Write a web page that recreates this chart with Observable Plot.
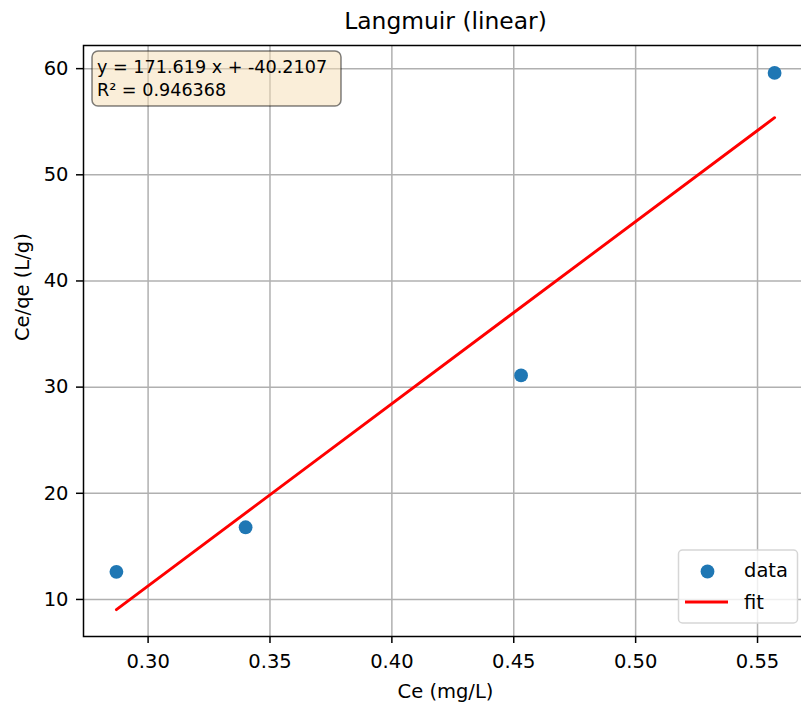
<!DOCTYPE html>
<html>
<head>
<meta charset="utf-8">
<script src="https://cdn.jsdelivr.net/npm/d3@7"></script>
<script src="https://cdn.jsdelivr.net/npm/@observablehq/plot@0.6"></script>
<style>
  html, body { margin: 0; padding: 0; background: white; overflow: hidden; }
  #wrap { position: relative; width: 801px; height: 708px; overflow: hidden; }
  #wrap svg.overlay { position: absolute; left: 0; top: 0; pointer-events: none; }
</style>
</head>
<body>
<div id="wrap"></div>
<script>
// ---- data ----
const ce = [0.287, 0.340, 0.453, 0.557];          // Ce (mg/L)
const ceqe = [12.6, 16.8, 31.1, 59.6];            // Ce/qe (L/g)
const slope = 171.619;
const intercept = -40.2107;
const r2 = 0.946368;
const fitX = [0.287, 0.557];
const xTicks = [0.30, 0.35, 0.40, 0.45, 0.50, 0.55];
const yTicks = [10, 20, 30, 40, 50, 60];
const titleText = "Langmuir (linear)";
const xLabel = "Ce (mg/L)";
const yLabel = "Ce/qe (L/g)";
const legendLabels = ["data", "fit"];

const points = ce.map((x, i) => ({x, y: ceqe[i]}));
const fit = fitX.map(x => ({x, y: slope * x + intercept}));

const font = "'DejaVu Sans', sans-serif";

const chart = Plot.plot({
  width: 801,
  height: 708,
  marginTop: 45,
  marginLeft: 83,
  marginRight: -6,
  marginBottom: 72,
  x: {domain: [0.2735, 0.5705]},
  y: {domain: [6.51, 62.18]},
  style: {fontFamily: font, fontSize: "19.5px", color: "black", background: "white", overflow: "hidden"},
  marks: [
    Plot.gridX(xTicks, {stroke: "#b0b0b0", strokeOpacity: 1, strokeWidth: 1.5}),
    Plot.gridY(yTicks, {stroke: "#b0b0b0", strokeOpacity: 1, strokeWidth: 1.5}),
    Plot.line(fit, {x: "x", y: "y", stroke: "red", strokeWidth: 2.9}),
    Plot.dot(points, {x: "x", y: "y", r: 6.9, fill: "#1f77b4"}),
    Plot.frame({stroke: "black", strokeWidth: 1.5}),
    Plot.axisX(xTicks, {tickSize: 7, tickPadding: 11, tickFormat: d3.format(".2f"), strokeWidth: 1.5, label: null, fontSize: 19.5, fill: "black"}),
    Plot.axisY(yTicks, {tickSize: 7, tickPadding: 8, tickFormat: d3.format("d"), strokeWidth: 1.5, label: null, fontSize: 19.5, fill: "black"}),
    Plot.text([titleText], {frameAnchor: "top", dy: -24, fontSize: 23.4, lineAnchor: "middle", fill: "black"}),
    Plot.text([xLabel], {frameAnchor: "bottom", dy: 55, fontSize: 19.5, lineAnchor: "middle", fill: "black"}),
    Plot.text([yLabel], {frameAnchor: "left", dx: -61, rotate: -90, fontSize: 19.5, lineAnchor: "middle", fill: "black"})
  ]
});
const wrap = document.getElementById("wrap");
wrap.appendChild(chart);

// ---- overlays: equation box and legend ----
const ns = "http://www.w3.org/2000/svg";
const ov = d3.select(wrap).append("svg")
  .attr("class", "overlay")
  .attr("width", 801).attr("height", 708)
  .style("font-family", font);

// equation box
ov.append("rect")
  .attr("x", 92).attr("y", 51).attr("width", 249).attr("height", 55).attr("rx", 6)
  .attr("fill", "rgba(245,222,179,0.5)")
  .attr("stroke", "rgba(0,0,0,0.5)").attr("stroke-width", 1.5);
const eqLines = [`y = ${slope} x + ${intercept}`, `R² = ${r2}`];
ov.selectAll("text.eq").data(eqLines).join("text")
  .attr("class", "eq")
  .attr("x", 97)
  .attr("y", (d, i) => 73 + i * 23)
  .attr("font-size", 17.6)
  .attr("fill", "black")
  .text(d => d);

// legend
ov.append("rect")
  .attr("x", 678.5).attr("y", 550).attr("width", 119).attr("height", 73).attr("rx", 4)
  .attr("fill", "rgba(255,255,255,0.8)")
  .attr("stroke", "#d6d6d6").attr("stroke-width", 1.5);
ov.append("circle").attr("cx", 707.5).attr("cy", 571.5).attr("r", 6.9).attr("fill", "#1f77b4");
ov.append("line").attr("x1", 685).attr("x2", 728).attr("y1", 602).attr("y2", 602)
  .attr("stroke", "red").attr("stroke-width", 2.9);
ov.selectAll("text.leg").data(legendLabels).join("text")
  .attr("class", "leg")
  .attr("x", 744)
  .attr("y", (d, i) => 577 + i * 32)
  .attr("font-size", 19.5)
  .attr("fill", "black")
  .text(d => d);
</script>
</body>
</html>
